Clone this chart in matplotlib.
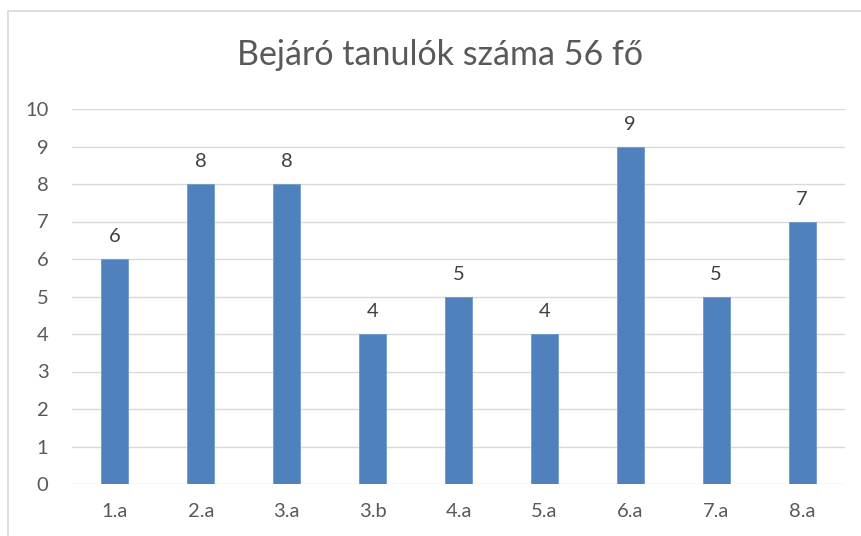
import matplotlib.pyplot as plt
from matplotlib.patches import Rectangle

classes = ["1.a", "2.a", "3.a", "3.b", "4.a", "5.a", "6.a", "7.a", "8.a"]
students = [6, 8, 8, 4, 5, 4, 9, 5, 7]
title = "Bejáró tanulók száma 56 fő"

plt.rcParams['font.family'] = ['Lato', 'DejaVu Sans']
grey = "#595959"

fig = plt.figure(figsize=(8.61, 5.36), dpi=100)
ax = fig.add_axes([72 / 861, 1 - 484 / 536, 773 / 861, 375 / 536])

x = range(len(classes))
ax.bar(x, students, width=0.314, color="#4f81bd", edgecolor="#6f9bd1",
       linewidth=0.6, zorder=3)
for xi, v in zip(x, students):
    ax.annotate(str(v), (xi, v), xytext=(0, 12), textcoords="offset points",
                ha="center", va="baseline", fontsize=14.5, color="#404040")

ax.set_xlim(-0.5, len(classes) - 0.5)
ax.set_ylim(0, 10)
ax.set_yticks(range(0, 11))
ax.set_xticks(list(x))
ax.set_xticklabels(classes)
ax.tick_params(length=0, labelsize=14.5, labelcolor=grey)
ax.tick_params(axis="y", pad=17)
ax.tick_params(axis="x", pad=14)
ax.grid(axis="y", color="#d9d9d9", linewidth=1.0, zorder=0)
for s in ax.spines.values():
    s.set_visible(False)

fig.text(440 / 861, 1 - 55 / 536, title, ha="center", va="center",
         fontsize=24.5, color=grey)

fig.patches.append(Rectangle((8 / 861, -0.1), 1.2, 1.1 - 11 / 536,
                             transform=fig.transFigure, fill=False,
                             edgecolor="#d9d9d9", linewidth=1.2))

fig.savefig("out.png", dpi=100, facecolor="white")
